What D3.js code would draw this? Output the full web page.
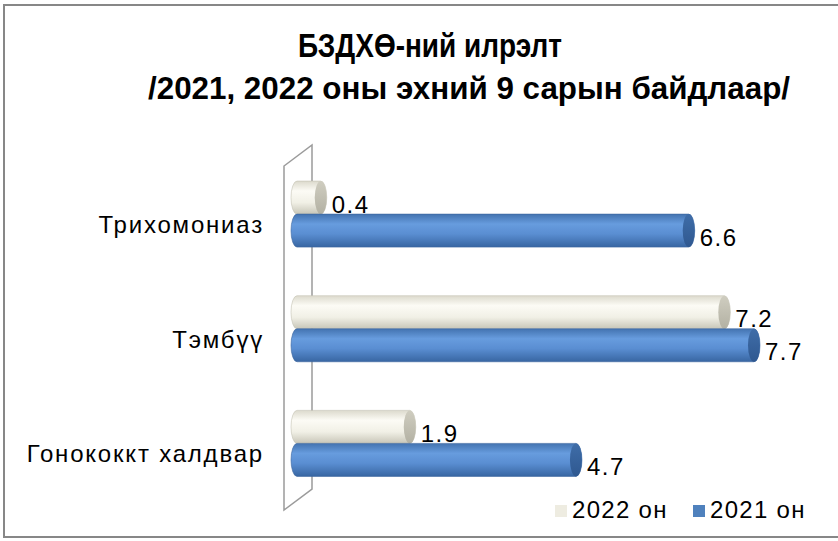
<!DOCTYPE html>
<html>
<head>
<meta charset="utf-8">
<script src="https://cdn.jsdelivr.net/npm/d3@7/dist/d3.min.js"></script>
<style>
  body { margin: 0; background: #fff; }
  svg text { font-family: "Liberation Sans", Arial, sans-serif; fill: #000; }
</style>
</head>
<body>
<div id="chart"></div>
<script>
// chart data
var categories = ["Трихомониаз", "Тэмбүү", "Гонококкт халдвар"];
var seriesNames = ["2022 он", "2021 он"];
var values2022 = [0.4, 7.2, 1.9];
var values2021 = [6.6, 7.7, 4.7];
var titleLines = ["БЗДХӨ-ний илрэлт", "/2021, 2022 оны эхний 9 сарын байдлаар/"];

var width = 838, height = 541;

var svg = d3.select("#chart").append("svg")
    .attr("width", width)
    .attr("height", height);

// outer frame (right edge falls outside the picture)
svg.append("rect")
    .attr("x", 4).attr("y", 5)
    .attr("width", 840).attr("height", 532)
    .attr("fill", "#fff")
    .attr("stroke", "#878787")
    .attr("stroke-width", 2);

// gradients for the cylinders
var defs = svg.append("defs");
function vGrad(id, stops) {
    var g = defs.append("linearGradient").attr("id", id)
        .attr("x1", 0).attr("y1", 0).attr("x2", 0).attr("y2", 1);
    stops.forEach(function(s) {
        g.append("stop").attr("offset", s[0]).attr("stop-color", s[1]);
    });
}
vGrad("blueBody", [["0%", "#4373b0"], ["30%", "#679cde"], ["60%", "#5a8ed2"], ["100%", "#3866a2"]]);
vGrad("blueCap", [["0%", "#3f6da8"], ["100%", "#2f5890"]]);
vGrad("creamBody", [["0%", "#dcdacd"], ["30%", "#fcfbf5"], ["65%", "#f1f0e6"], ["100%", "#c8c6b8"]]);
vGrad("creamCap", [["0%", "#cfcdc0"], ["100%", "#b3b1a3"]]);

// title
svg.append("text")
    .attr("x", 430).attr("y", 57)
    .attr("text-anchor", "middle")
    .style("font-size", "33px").style("font-weight", "bold")
    .attr("textLength", 264).attr("lengthAdjust", "spacingAndGlyphs")
    .text(titleLines[0]);
svg.append("text")
    .attr("x", 469).attr("y", 99)
    .attr("text-anchor", "middle")
    .style("font-size", "32px").style("font-weight", "bold")
    .attr("textLength", 642).attr("lengthAdjust", "spacingAndGlyphs")
    .text(titleLines[1]);

// scales
var x = d3.scaleLinear().domain([0, 8]).range([297, 297 + 8 * 59.35]);
var y = d3.scaleBand().domain(categories)
    .range([157, 500.5])
    .paddingInner(0.424)
    .paddingOuter(0.21);
var ySub = d3.scaleBand().domain(seriesNames).range([0, y.bandwidth()]);

// back wall (3D side plane)
var depthX = 28, depthY = -21;
var wallFront = 284;
svg.append("path")
    .attr("d", "M" + wallFront + "," + 166 +
        "L" + (wallFront + depthX) + "," + (166 + depthY) +
        "L" + (wallFront + depthX) + "," + (510 + depthY) +
        "L" + wallFront + "," + 510 + "Z")
    .attr("fill", "#fff")
    .attr("stroke", "#9b9b9b")
    .attr("stroke-width", 1.5);

// category labels
svg.selectAll(".cat")
    .data(categories)
    .enter().append("text")
    .attr("class", "cat")
    .attr("x", 264)
    .attr("y", function(d) { return y(d) + y.bandwidth() / 2 + 19; })
    .attr("text-anchor", "end")
    .style("font-size", "24px")
    .style("letter-spacing", "1.8px")
    .text(function(d) { return d; });

// bar records
var bars = [];
categories.forEach(function(c, i) {
    bars.push({cat: c, series: seriesNames[0], value: values2022[i], body: "creamBody", cap: "creamCap"});
    bars.push({cat: c, series: seriesNames[1], value: values2021[i], body: "blueBody", cap: "blueCap"});
});

var rx = 6;
function cylinder(d) {
    var t = y(d.cat) + ySub(d.series), h = ySub.bandwidth();
    var x0 = x(0), x1 = x(d.value);
    return "M" + x0 + "," + t + "L" + x1 + "," + t +
        "A" + rx + "," + (h / 2) + " 0 0 1 " + x1 + "," + (t + h) +
        "L" + x0 + "," + (t + h) +
        "A" + rx + "," + (h / 2) + " 0 0 1 " + x0 + "," + t + "Z";
}

var g = svg.selectAll(".bar")
    .data(bars)
    .enter().append("g")
    .attr("class", "bar");

g.append("path")
    .attr("d", cylinder)
    .attr("fill", function(d) { return "url(#" + d.body + ")"; })
    .attr("stroke", function(d) { return d.body === "blueBody" ? "#3c67a0" : "#c4c2b4"; })
    .attr("stroke-width", 0.6);

g.append("ellipse")
    .attr("cx", function(d) { return x(d.value); })
    .attr("cy", function(d) { return y(d.cat) + ySub(d.series) + ySub.bandwidth() / 2; })
    .attr("rx", rx)
    .attr("ry", ySub.bandwidth() / 2)
    .attr("fill", function(d) { return "url(#" + d.cap + ")"; });

// value labels
svg.selectAll(".val")
    .data(bars)
    .enter().append("text")
    .attr("class", "val")
    .attr("x", function(d) { return x(d.value) + rx + 5; })
    .attr("y", function(d) { return y(d.cat) + ySub(d.series) + ySub.bandwidth() / 2 + 15; })
    .style("font-size", "24px")
    .style("letter-spacing", "1.5px")
    .text(function(d) { return d.value.toFixed(1); });

// legend
var legendColors = ["#eeece1", "#4f81bd"];
var legendX = [555, 693];
var legend = svg.selectAll(".legend")
    .data(seriesNames)
    .enter().append("g")
    .attr("class", "legend")
    .attr("transform", function(d, i) { return "translate(" + legendX[i] + ",505)"; });
legend.append("rect")
    .attr("width", 12).attr("height", 12)
    .attr("fill", function(d, i) { return legendColors[i]; });
legend.append("text")
    .attr("x", 17).attr("y", 13)
    .style("font-size", "24px")
    .style("letter-spacing", "1.3px")
    .text(function(d) { return d; });
</script>
</body>
</html>
